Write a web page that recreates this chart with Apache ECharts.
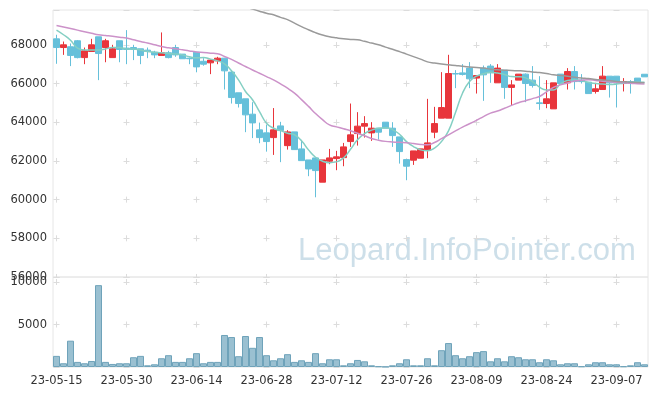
<!DOCTYPE html>
<html>
<head>
<meta charset="utf-8">
<script src="https://cdn.jsdelivr.net/npm/echarts@6/dist/echarts.min.js"></script>
<style>
html,body{margin:0;padding:0;background:#fff;}
#chart{width:657px;height:396px;}
</style>
</head>
<body>
<div id="chart"></div>
<script>
var dates = [
 '23-05-15','23-05-16','23-05-17','23-05-18','23-05-19','23-05-22','23-05-23','23-05-24','23-05-25','23-05-26','23-05-30','23-05-31',
 '23-06-01','23-06-02','23-06-05','23-06-07','23-06-08','23-06-09','23-06-12','23-06-13','23-06-14','23-06-15','23-06-16','23-06-19','23-06-20','23-06-21','23-06-22','23-06-23','23-06-26','23-06-27','23-06-28','23-06-29','23-06-30',
 '23-07-03','23-07-04','23-07-05','23-07-06','23-07-07','23-07-10','23-07-11','23-07-12','23-07-13','23-07-14','23-07-17','23-07-18','23-07-19','23-07-20','23-07-21','23-07-24','23-07-25','23-07-26','23-07-27','23-07-28','23-07-31',
 '23-08-01','23-08-02','23-08-03','23-08-04','23-08-07','23-08-08','23-08-09','23-08-10','23-08-11','23-08-14','23-08-16','23-08-17','23-08-18','23-08-21','23-08-22','23-08-23','23-08-24','23-08-25','23-08-28','23-08-29','23-08-30','23-08-31',
 '23-09-01','23-09-04','23-09-05','23-09-06','23-09-07','23-09-08','23-09-11','23-09-12','23-09-13'
];
var openV = [68310,67860,67900,68210,67340,67655,68415,67860,67340,68210,67830,67860,67795,67725,67620,67450,67590,67860,67520,67310,
 67620,67150,67070,67170,67310,66590,65520,65210,64415,63605,63450,63205,63810,62790,63500,62620,62050,62155,60900,61985,
 62120,62170,63000,63413,63796,63449,63692,64002,63692,63242,62068,62037,62140,62585,63485,64210,64210,66517,66550,66796,
 66279,66796,66900,66036,66690,65800,66175,66485,66175,65000,64965,64690,66485,66035,66620,66175,66070,65590,65690,66380,
 66380,66000,66100,66280,66480];
var closeV = [67860,68000,67450,67340,67690,68000,67550,68210,67795,67760,67760,67760,67450,67655,67480,67590,67340,67480,67280,67280,
 66860,67000,67210,67310,66655,65275,64965,64380,63965,63205,63000,63605,63570,63500,62585,62015,61585,61500,62050,62155,
 62210,62725,63346,63796,63930,63692,63485,63692,63309,62482,61726,62518,62621,62932,63930,64758,66517,66490,66470,66243,
 66413,66449,66553,66796,65800,65930,66485,66000,65900,64965,65210,66035,66000,66620,66100,66100,65480,65725,66380,66035,
 66035,66100,66035,66000,66345];
var lowV = [67020,67480,66900,67300,67000,67655,66175,67100,67340,67100,67000,67210,67000,67310,67310,67450,67300,67380,67280,67000,
 66580,66920,66485,67000,65690,64965,64760,63485,63180,62915,62480,62310,61935,62585,62585,62015,61210,60120,60900,61830,
 61520,61725,62725,62792,63206,63035,63102,63692,62725,61861,61002,61794,62140,62140,63175,64210,64210,65761,66413,65761,
 65482,65104,66036,66036,65210,64860,66175,65035,65790,64640,64725,64690,66000,65690,65690,66000,65480,65480,65690,65275,
 64760,65590,65480,66000,66345];
var highV = [68520,68170,68070,68250,67860,68310,68415,68310,68000,68210,68760,68000,67795,67860,67690,68640,67690,68000,67520,67340,
 67620,67310,67240,67380,67310,66690,65520,65210,65035,63980,63860,64730,64020,63590,63500,63090,62050,62155,62050,62620,
 62520,62930,64965,64520,64313,64002,63692,64002,64002,63242,62068,62518,62621,65208,64794,66589,67484,66693,67003,67106,
 66413,66930,67003,67003,66690,66175,66485,66520,66900,66380,66175,66035,66485,66795,66900,66485,66070,66035,66900,66380,
 66380,66280,66175,66280,66480];
var volume = [1310,440,3100,600,440,710,9640,600,360,440,440,1150,1310,200,320,1030,1390,600,600,1030,
 1630,440,600,600,3770,3530,1270,3650,2260,3530,1390,790,1030,1510,600,790,600,1630,440,910,
 910,200,440,830,670,200,80,30,200,440,910,200,200,1030,200,1980,2820,1390,1030,1270,
 1750,1870,670,1030,670,1270,1150,910,910,560,910,790,320,440,440,80,320,560,560,320,
 320,80,200,560,320];
var ma5 = [68760,68520,68240,67830,67730,67730,67730,67790,67860,67860,67790,67790,67730,67655,67620,67590,67550,67520,67480,67380,
 67330,67345,67260,67170,67020,66660,66190,65590,65160,64550,63950,63690,63570,63430,63350,63040,62570,62190,61985,61910,
 61950,62150,62600,63090,63410,63590,63690,63720,63620,63380,63000,62740,62570,62520,62660,63000,63550,64500,65500,66100,
 66380,66500,66580,66540,66470,66360,66350,66290,66100,65810,65670,65670,65980,66155,66190,66155,66050,66000,65970,65950,
 65970,66020,66050,66070,66070];
var ma20 = [69000,68920,68840,68760,68680,68600,68520,68480,68440,68390,68350,68260,68170,68090,68000,67910,67850,67800,67740,67680,
 67630,67600,67570,67540,67400,67250,67060,66880,66700,66530,66360,66190,65980,65760,65500,65170,64820,64450,64130,63860,
 63760,63660,63560,63430,63300,63160,63070,63010,62980,62960,62945,62900,62850,62830,62950,63150,63350,63550,63750,63920,
 64100,64290,64470,64580,64720,64870,65010,65110,65220,65330,65570,65800,65930,66030,66130,66170,66190,66160,66120,66090,
 66060,66040,66010,65990,65970];
var ma60 = [null,null,null,null,null,null,null,null,null,null,null,null,null,null,null,null,null,null,null,null,
 null,null,null,null,null,null,70080,69960,69850,69740,69630,69550,69420,69300,69120,68940,68780,68630,68510,68420,
 68360,68310,68280,68260,68180,68090,68000,67880,67770,67650,67520,67390,67260,67120,67060,67010,66970,66930,66890,66860,
 66830,66800,66740,66710,66690,66670,66660,66640,66600,66570,66520,66450,66420,66380,66330,66290,66260,66210,66180,66150,
 66110,66090,66070,66050,66040];
var watermark = 'Leopard.InfoPointer.com';

var candles = dates.map(function(d, i){ return [openV[i], closeV[i], lowV[i], highV[i]]; });

var FONT = 'DejaVu Sans';
var FSIZE = 11.5;
var crossColor = '#dcdcdc';
function plain(v){ return String(v); }
var chart = echarts.init(document.getElementById('chart'), null, {renderer: 'canvas'});
chart.setOption({
  animation: false,
  backgroundColor: '#fff',
  graphic: [{
    type: 'text', left: 298, top: 236, z: 0, silent: true,
    style: { text: watermark, font: '31px "Liberation Sans"', fill: 'rgba(150,188,210,0.48)' }
  }],
  grid: [
    {left: 53, right: 9, top: 10, height: 267, show: true, borderColor: '#e6e6e6', borderWidth: 1},
    {left: 53, right: 9, top: 277, height: 90, show: true, borderColor: '#e6e6e6', borderWidth: 1}
  ],
  xAxis: [
    {type: 'category', gridIndex: 0, data: dates, boundaryGap: true,
     axisLine: {show: false}, axisTick: {show: false}, axisLabel: {show: false},
     splitLine: {show: true, interval: 9, alignWithLabel: true,
       lineStyle: {color: crossColor, width: 1, type: [6, 32.66], dashOffset: 6.66}}},
    {type: 'category', gridIndex: 1, data: dates, boundaryGap: true,
     axisLine: {show: false}, axisTick: {show: false},
     axisLabel: {interval: 9, color: '#333', fontFamily: FONT, fontSize: FSIZE, margin: 8},
     splitLine: {show: true, interval: 9, alignWithLabel: true,
       lineStyle: {color: crossColor, width: 1, type: [6, 36.5], dashOffset: 40.5}}}
  ],
  yAxis: [
    {type: 'value', gridIndex: 0, min: 56000, max: 69800, interval: 2000, scale: true,
     axisLine: {show: false}, axisTick: {show: false},
     axisLabel: {showMaxLabel: false, formatter: plain, color: '#333', fontFamily: FONT, fontSize: FSIZE, margin: 6},
     splitLine: {show: true, lineStyle: {color: crossColor, width: 1, type: [6, 64], dashOffset: 69.5}}},
    {type: 'value', gridIndex: 1, min: 0, max: 10600, interval: 5000,
     axisLine: {show: false}, axisTick: {show: false},
     axisLabel: {showMaxLabel: false, showMinLabel: false, formatter: plain, color: '#333', fontFamily: FONT, fontSize: FSIZE, margin: 6},
     splitLine: {show: true, lineStyle: {color: crossColor, width: 1, type: [6, 64], dashOffset: 69.5}}}
  ],
  series: [
    {type: 'candlestick', xAxisIndex: 0, yAxisIndex: 0, data: candles, barWidth: 6,
     itemStyle: {color: '#e8353b', color0: '#66c0da', borderColor: '#e8353b', borderColor0: '#66c0da', borderWidth: 1}},
    {type: 'line', xAxisIndex: 0, yAxisIndex: 0, data: ma5, smooth: true, symbol: 'none',
     lineStyle: {color: '#84cfc3', width: 1.5}},
    {type: 'line', xAxisIndex: 0, yAxisIndex: 0, data: ma20, smooth: true, symbol: 'none',
     lineStyle: {color: '#cc92c9', width: 1.5}},
    {type: 'line', xAxisIndex: 0, yAxisIndex: 0, data: ma60, smooth: true, symbol: 'none',
     lineStyle: {color: '#9a9a9a', width: 1.5}},
    {type: 'bar', xAxisIndex: 1, yAxisIndex: 1, data: volume, barCategoryGap: '0%',
     itemStyle: {color: '#9ac0d1', borderColor: '#6fa3ba', borderWidth: 1}}
  ]
});
</script>
</body>
</html>
